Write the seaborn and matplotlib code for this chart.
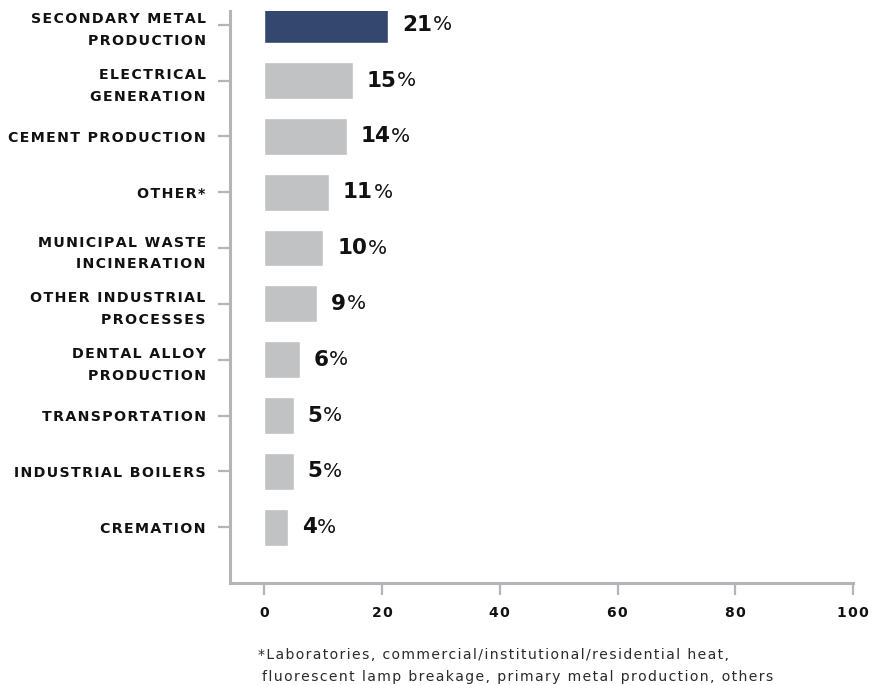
import matplotlib
matplotlib.use("Agg")
import matplotlib.pyplot as plt
import seaborn as sns
import pandas as pd

# Emission sources (top to bottom) and their share of the total, in percent
categories = [
    "SECONDARY METAL\nPRODUCTION",
    "ELECTRICAL\nGENERATION",
    "CEMENT PRODUCTION",
    "OTHER*",
    "MUNICIPAL WASTE\nINCINERATION",
    "OTHER INDUSTRIAL\nPROCESSES",
    "DENTAL ALLOY\nPRODUCTION",
    "TRANSPORTATION",
    "INDUSTRIAL BOILERS",
    "CREMATION",
]
shares = [21, 15, 14, 11, 10, 9, 6, 5, 5, 4]
x_ticks = [0, 20, 40, 60, 80, 100]
footnote_lines = [
    "*Laboratories, commercial/institutional/residential heat,",
    "fluorescent lamp breakage, primary metal production, others",
]

HIGHLIGHT = "#34476f"
MUTED = "#c1c2c4"
AXIS = "#b3b5b8"
INK = "#111111"

HAIR = "\u200a"


def tracked(text):
    """Open up letter spacing by putting a hair space between characters."""
    return "\n".join(HAIR.join(line) for line in text.split("\n"))


sns.set_theme(style="white")
plt.rcParams["font.family"] = ["DejaVu Sans"]

W, H = 882, 685
fig = plt.figure(figsize=(W / 100, H / 100), dpi=100)
ax = fig.add_axes([230 / W, 102 / H, (853 - 230) / W, (583 - 11) / H])

df = pd.DataFrame({"source": categories, "share": shares})
palette = {c: (HIGHLIGHT if i == 0 else MUTED) for i, c in enumerate(categories)}
sns.barplot(
    data=df, y="source", x="share", hue="source", palette=palette,
    legend=False, orient="h", width=0.66, saturation=1, ax=ax,
)

ax.set_xlim(-5.83, 100)
ax.set_ylim(10.0, -0.245)
ax.set_xlabel("")
ax.set_ylabel("")

for side in ("top", "right"):
    ax.spines[side].set_visible(False)
for side in ("left", "bottom"):
    ax.spines[side].set_color(AXIS)
    ax.spines[side].set_linewidth(2.2)

ax.set_xticks(x_ticks)
ax.set_xticklabels([tracked(str(t)) for t in x_ticks], fontsize=10, fontweight="bold", color=INK)
ax.set_yticks(range(len(categories)))
ax.set_yticklabels([tracked(c) for c in categories], fontsize=10.2, fontweight="bold",
                   color=INK, linespacing=1.7, multialignment="right")
ax.tick_params(axis="both", which="both", bottom=True, left=True, direction="out",
               length=8.5, width=1.6, color=AXIS)
ax.tick_params(axis="x", pad=8)
ax.tick_params(axis="y", pad=9)

# Value labels: bold figure followed by a lighter percent sign
for i, v in enumerate(shares):
    num = ax.annotate(f"{v}", xy=(v, i), xytext=(10, 0), textcoords="offset points",
                      ha="left", va="center", fontsize=15.5, fontweight="bold", color=INK)
    ax.annotate("%", xy=(1, 0.5), xycoords=num, xytext=(0.5, 0), textcoords="offset points",
                ha="left", va="center", fontsize=14.5, fontweight="normal", color=INK)

fig.text(258 / W, 1 - 655 / H, tracked(footnote_lines[0]), ha="left", va="center",
         fontsize=10.1, color="#2a2a2a")
fig.text(262 / W, 1 - 677 / H, tracked(footnote_lines[1]), ha="left", va="center",
         fontsize=10.1, color="#2a2a2a")

fig.savefig("out.png", dpi=100)
